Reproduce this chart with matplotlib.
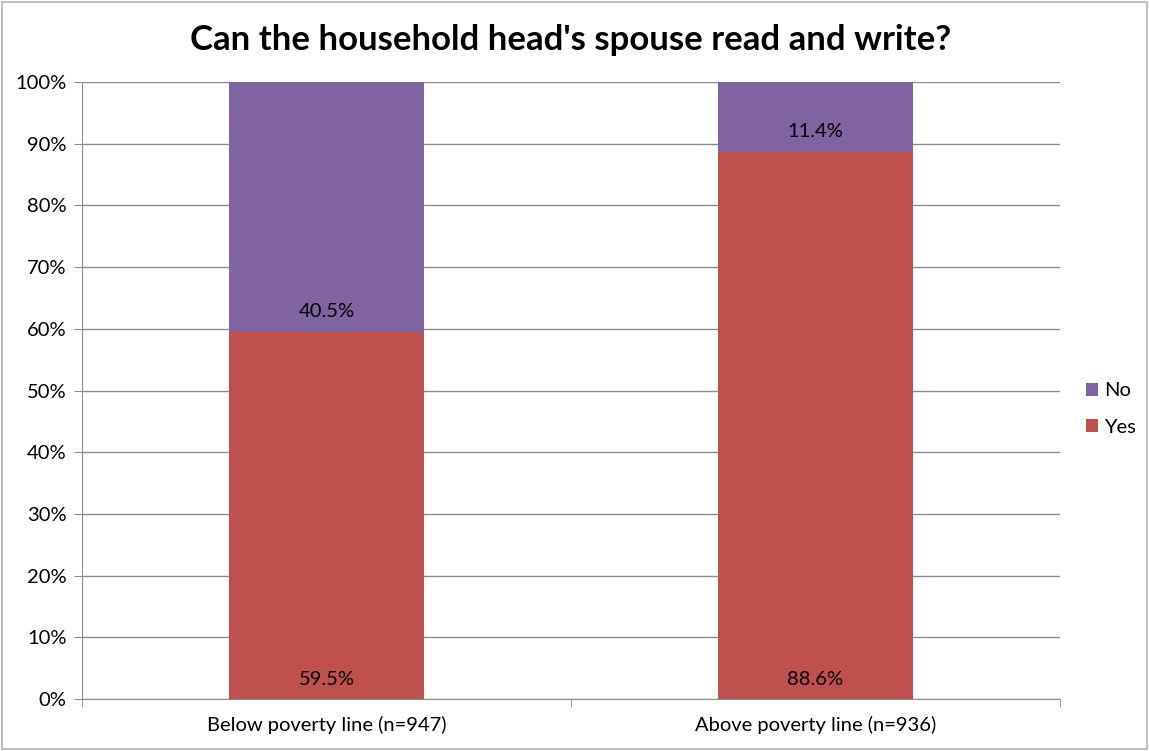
import numpy as np
import matplotlib.pyplot as plt
from matplotlib.patches import Rectangle
from matplotlib.ticker import FuncFormatter, FixedLocator

plt.rcParams['font.family'] = ['Lato', 'DejaVu Sans']

categories = ['Below poverty line (n=947)', 'Above poverty line (n=936)']
yes_pct = [59.5, 88.6]
no_pct = [40.5, 11.4]

yes_color = '#C0504D'
no_color = '#8064A2'
grid_color = '#8C8C8C'

fig = plt.figure(figsize=(11.49, 7.51), dpi=100)
ax = fig.add_axes([82 / 1149, 1 - 699 / 751, 978 / 1149, 617 / 751])

x = np.arange(len(categories))
width = 0.4
bars_yes = ax.bar(x, yes_pct, width, color=yes_color, label='Yes', zorder=3)
bars_no = ax.bar(x, no_pct, width, bottom=yes_pct, color=no_color, label='No', zorder=3)

# labels sit just above the base of each segment
for rect, val in zip(bars_yes, yes_pct):
    ax.annotate(f'{val:.1f}%', (rect.get_x() + rect.get_width() / 2, rect.get_y()),
                xytext=(0, 14), textcoords='offset points', ha='center', va='center',
                fontsize=14.5, zorder=4)
for rect, val in zip(bars_no, no_pct):
    ax.annotate(f'{val:.1f}%', (rect.get_x() + rect.get_width() / 2, rect.get_y()),
                xytext=(0, 15), textcoords='offset points', ha='center', va='center',
                fontsize=14.5, zorder=4)

ax.set_xlim(-0.5, 1.5)
ax.set_ylim(0, 100)
ax.yaxis.set_major_locator(FixedLocator(np.arange(0, 101, 10)))
ax.yaxis.set_major_formatter(FuncFormatter(lambda v, p: f'{v:.0f}%'))
ax.yaxis.grid(True, color=grid_color, linewidth=1, zorder=0)

ax.set_xticks(x)
ax.set_xticklabels(categories, fontsize=14.5)
ax.set_xticks([-0.5, 0.5, 1.5], minor=True)
ax.tick_params(axis='x', which='major', length=0, pad=12)
ax.tick_params(axis='x', which='minor', length=6, color=grid_color, direction='out')
ax.tick_params(axis='y', length=6, color=grid_color, labelsize=14.5, pad=5)

for side in ['top', 'right']:
    ax.spines[side].set_visible(False)
for side in ['left', 'bottom']:
    ax.spines[side].set_color(grid_color)

ax.set_title("Can the household head's spouse read and write?", fontsize=25,
             fontweight='bold', pad=23)

handles = [bars_no, bars_yes]
ax.legend(handles, ['No', 'Yes'], loc='center left', bbox_to_anchor=(1.008, 0.47),
          frameon=False, fontsize=14.5, handlelength=0.6, handleheight=0.6,
          handletextpad=0.3, labelspacing=0.95)

fig.patches.append(Rectangle((0.002, 0.002), 0.996, 0.996, transform=fig.transFigure,
                             fill=False, edgecolor='#BFBFBF', linewidth=1.5))

fig.savefig('out.png', dpi=100)
